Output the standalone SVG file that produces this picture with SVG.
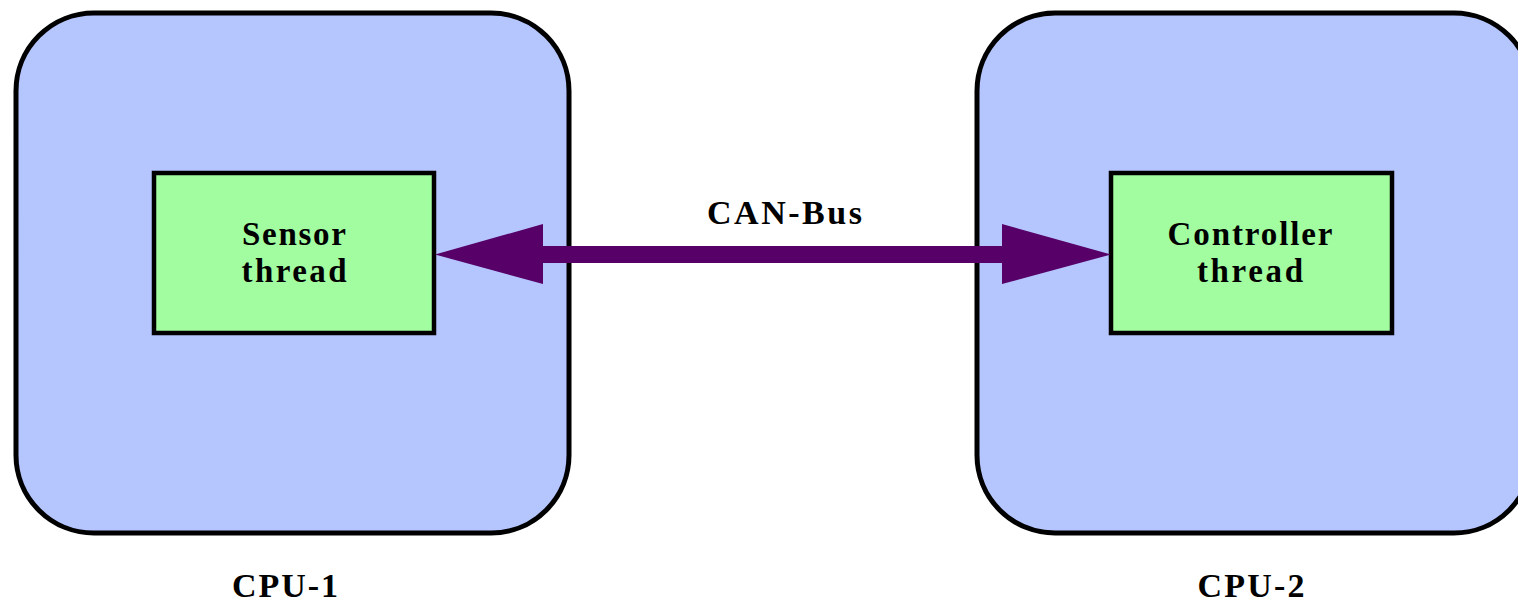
<svg xmlns="http://www.w3.org/2000/svg" width="1518" height="603" viewBox="0 0 1518 603">
<defs>
<style>
.cpu{fill:#b5c5fe;stroke:#000;stroke-width:5}
.thr{fill:#a2fca0;stroke:#000;stroke-width:4.5}
.t{font-family:"Liberation Serif","DejaVu Serif",serif;font-weight:bold;fill:#000;text-anchor:middle}
.in{font-size:33px}
.lbl{font-size:34px}
.bus{fill:#560068}
</style>
</defs>
<rect width="1518" height="603" fill="#fff"/>
<g id="cpu1">
<rect class="cpu" x="16" y="13" width="553" height="520" rx="78" ry="78"/>
<text class="t lbl" x="285" y="597" textLength="106" lengthAdjust="spacing">CPU-1</text>
</g>
<g id="cpu2">
<rect class="cpu" x="977" y="13" width="555" height="520" rx="78" ry="78"/>
<text class="t lbl" x="1251" y="597" textLength="107" lengthAdjust="spacing">CPU-2</text>
</g>
<g id="sensor">
<rect class="thr" x="154" y="173" width="280" height="160"/>
<text class="t in" x="294" y="245" textLength="104" lengthAdjust="spacing">Sensor</text>
<text class="t in" x="294" y="282" textLength="105" lengthAdjust="spacing">thread</text>
</g>
<g id="controller">
<rect class="thr" x="1111" y="173" width="281" height="160"/>
<text class="t in" x="1250" y="245" textLength="165" lengthAdjust="spacing">Controller</text>
<text class="t in" x="1250" y="282" textLength="106" lengthAdjust="spacing">thread</text>
</g>
<g id="connectors">
<rect class="bus" x="540" y="246" width="466" height="17"/>
<polygon class="bus" points="435,254.5 543,224 543,284"/>
<polygon class="bus" points="1111,254.5 1002,224 1002,284"/>
<text class="t lbl" x="784.5" y="224" textLength="155" lengthAdjust="spacing">CAN-Bus</text>
</g>
</svg>
